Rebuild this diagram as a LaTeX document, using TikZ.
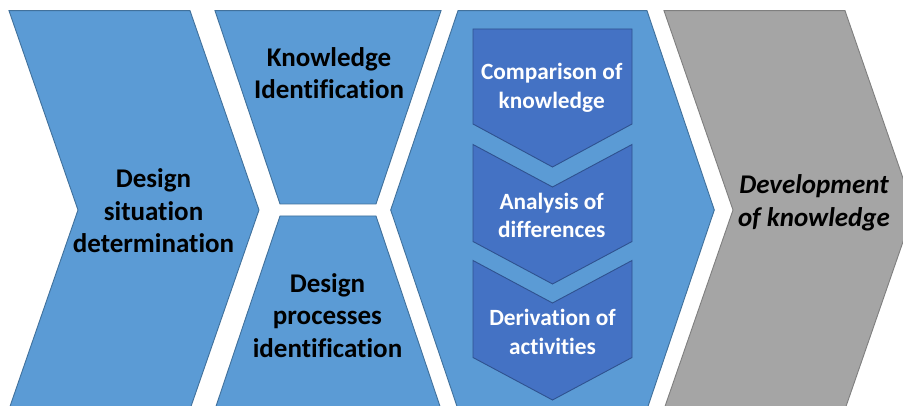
\documentclass[tikz,border=0pt]{standalone}
\usepackage{fontspec}
\setmainfont{Carlito}[Ligatures=CommonOff]
\definecolor{lblue}{HTML}{5B9BD5}
\definecolor{lblueline}{HTML}{41719C}
\definecolor{dblue}{HTML}{4472C4}
\definecolor{dblueline}{HTML}{2F528F}
\definecolor{gfill}{HTML}{A5A5A5}
\definecolor{gline}{HTML}{7F7F7F}
\tikzset{
  outer/.style={fill=lblue,draw=lblueline,line width=0.9pt,line join=miter},
  grayshape/.style={fill=gfill,draw=gline,line width=0.9pt},
  inner/.style={fill=dblue,draw=dblueline,line width=0.9pt},
  bigtext/.style={align=center,inner sep=0pt,font=\bfseries\fontsize{27}{32.5}\selectfont,text=black},
  smalltext/.style={align=center,inner sep=0pt,font=\bfseries\fontsize{23.3}{28.6}\selectfont,text=white},
}
\begin{document}
\begin{tikzpicture}[x=1pt,y=-1pt]
\useasboundingbox (0,0) rectangle (903,406);
\clip (0,0) rectangle (903,406);
\fill[white] (0,0) rectangle (903,406);
% chevron 1
\draw[outer] (9,10.7) -- (190,10.7) -- (259,210) -- (190,409.3) -- (9,409.3) -- (78,210) -- cycle;
% top trapezoid
\draw[outer] (215,10.7) -- (441,10.7) -- (376,204) -- (280,204) -- cycle;
% bottom trapezoid
\draw[outer] (280,216) -- (376,216) -- (441,409.3) -- (215,409.3) -- cycle;
% hexagon
\draw[outer] (458,10.7) -- (647,10.7) -- (714.3,210) -- (647,409.3) -- (458,409.3) -- (390.7,210) -- cycle;
% gray chevron
\draw[grayshape] (664,10.7) -- (845,10.7) -- (914,210) -- (845,409.3) -- (664,409.3) -- (733,210) -- cycle;
% inner chevrons
\draw[inner] (473,29) -- (632,29) -- (632,124) -- (552.5,167) -- (473,124) -- cycle;
\draw[inner] (473,144.5) -- (552.5,187) -- (632,144.5) -- (632,241.5) -- (552.5,284) -- (473,241.5) -- cycle;
\draw[inner] (473,260.5) -- (552.5,303) -- (632,260.5) -- (632,357.5) -- (552.5,400) -- (473,357.5) -- cycle;
% texts
\node[bigtext] (dsd) at (153.5,211) {Design\\situation\\determination};
\node[bigtext] (ki) at (329,73) {Knowledge\\Identification};
\node[bigtext] (dpi) at (327.5,315.5) {Design\\processes\\identification};
\node[smalltext] (cok) at (551.7,88) {Comparison of\\knowledge};
\node[smalltext] (aod) at (551.7,215.5) {Analysis of\\differences};
\node[smalltext] (doa) at (552.5,331.7) {Derivation of\\activities};
\node[bigtext,font=\bfseries\itshape\fontsize{27}{32.5}\selectfont] (dok) at (814,203) {Development\\of knowledge};
\end{tikzpicture}
\end{document}
